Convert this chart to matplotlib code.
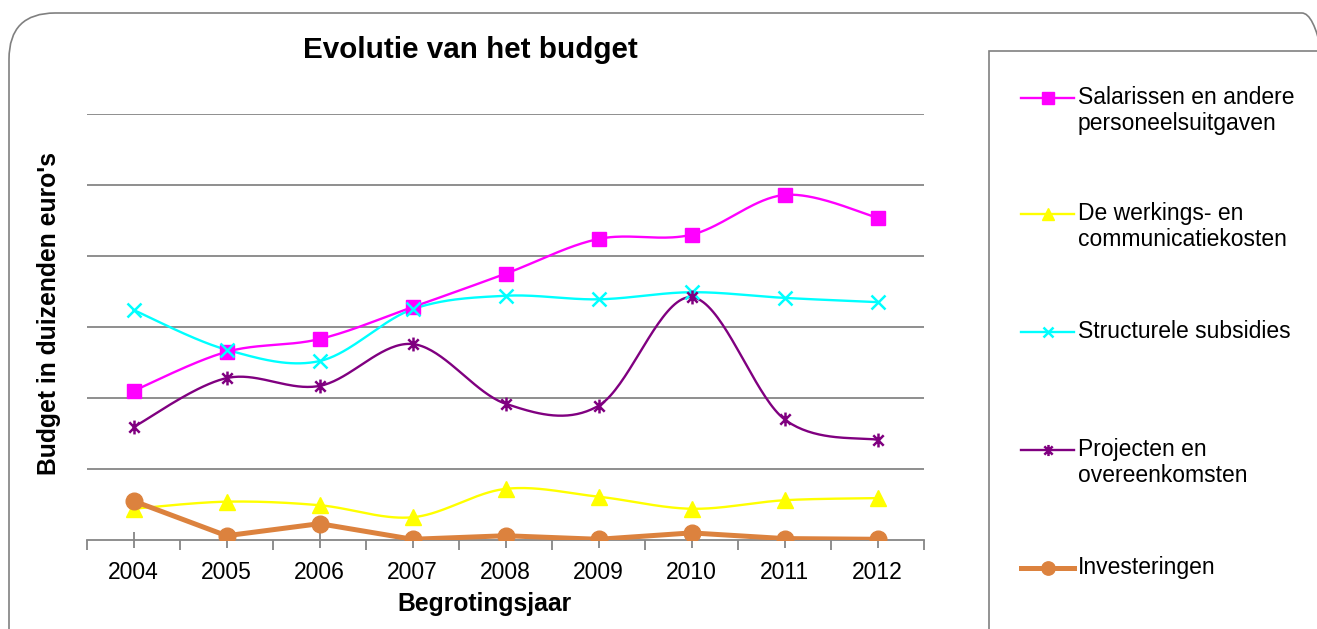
import numpy as np
import matplotlib
matplotlib.use("Agg")
import matplotlib.pyplot as plt
from matplotlib.lines import Line2D
from matplotlib.patches import FancyBboxPatch, Rectangle
from matplotlib.path import Path

plt.rcParams['font.family'] = ['Liberation Sans', 'DejaVu Sans']

years = ['2004', '2005', '2006', '2007', '2008', '2009', '2010', '2011', '2012']
salarissen = [2.10, 2.65, 2.83, 3.28, 3.75, 4.24, 4.30, 4.86, 4.54]
werking = [0.44, 0.54, 0.49, 0.32, 0.72, 0.61, 0.44, 0.56, 0.59]
structureel = [3.24, 2.68, 2.52, 3.25, 3.44, 3.39, 3.49, 3.41, 3.35]
projecten = [1.59, 2.28, 2.17, 2.76, 1.92, 1.89, 3.42, 1.70, 1.41]
investeringen = [0.55, 0.06, 0.23, 0.01, 0.06, 0.01, 0.10, 0.02, 0.01]

labels = ['Salarissen en andere\npersoneelsuitgaven',
          'De werkings- en\ncommunicatiekosten',
          'Structurele subsidies',
          'Projecten en\novereenkomsten',
          'Investeringen']

W, H = 1317, 629
fig = plt.figure(figsize=(W / 100, H / 100), dpi=100)

def fx(px):
    return px / W

def fy(py):
    return 1 - py / H

# outer rounded frame
frame = FancyBboxPatch((fx(9), fy(700)), fx(1348) - fx(9), fy(13) - fy(700),
                       boxstyle="round,pad=0,rounding_size=0.035",
                       transform=fig.transFigure, fill=False,
                       edgecolor='#808080', linewidth=1.2,
                       mutation_aspect=W / H)
fig.add_artist(frame)

ax = fig.add_axes([fx(87), fy(540), fx(924) - fx(87), fy(114) - fy(540)])
ax.set_facecolor('none')

def smooth(xs, ys, n=40):
    xs = np.asarray(xs, float)
    ys = np.asarray(ys, float)
    P = np.column_stack([xs, ys])
    Pe = np.vstack([P[0], P, P[-1]])
    out = []
    t = np.linspace(0, 1, n)
    for i in range(1, len(Pe) - 2):
        p0, p1, p2, p3 = Pe[i - 1], Pe[i], Pe[i + 1], Pe[i + 2]
        c1 = p1 + (p2 - p0) / 6
        c2 = p2 - (p3 - p1) / 6
        seg = ((1 - t) ** 3)[:, None] * p1 + (3 * (1 - t) ** 2 * t)[:, None] * c1 \
            + (3 * (1 - t) * t ** 2)[:, None] * c2 + (t ** 3)[:, None] * p2
        out.append(seg if i == 1 else seg[1:])
    s = np.vstack(out)
    return s[:, 0], s[:, 1]

star = Path([(0, -1), (0, 1), (-0.75, -0.75), (0.75, 0.75), (-0.75, 0.75), (0.75, -0.75)],
            [Path.MOVETO, Path.LINETO, Path.MOVETO, Path.LINETO, Path.MOVETO, Path.LINETO])

x = np.arange(len(years))

series = [
    (salarissen, '#FF00FF', 's', 10.5, 1.7, True, {}),
    (werking, '#FFFF00', '^', 11, 1.7, True, {}),
    (structureel, '#00FFFF', 'x', 9.5, 1.7, True, {'markeredgewidth': 1.8}),
    (projecten, '#800080', star, 10, 1.7, True, {'markeredgewidth': 1.8}),
    (investeringen, '#DC823E', 'o', 12, 3.6, False, {}),
]

for vals, col, mk, ms, lw, sm, extra in series:
    if sm:
        sx, sy = smooth(x, vals)
        ax.plot(sx, sy, color=col, linewidth=lw, zorder=3)
    else:
        ax.plot(x, vals, color=col, linewidth=lw, zorder=3, solid_joinstyle='round')
    ax.plot(x, vals, linestyle='none', marker=mk, markersize=ms, color=col,
            markeredgecolor=col, zorder=4, **extra)

ax.set_xlim(-0.5, len(years) - 0.5)
ax.set_ylim(0, 6)
ax.set_yticks(np.arange(1, 7))
ax.yaxis.grid(True, color='#868686', linewidth=1.3)
ax.set_axisbelow(True)
ax.tick_params(axis='y', left=False, labelleft=False)
ax.set_xticks(x)
ax.set_xticklabels(years, fontsize=16.5)
ax.set_xticks(np.arange(-0.5, len(years)), minor=True)
ax.tick_params(axis='x', which='major', direction='inout', length=12, width=1.3,
               color='#868686', pad=9)
ax.tick_params(axis='x', which='minor', direction='out', length=7, width=1.3,
               color='#868686')
for s in ['left', 'right', 'top']:
    ax.spines[s].set_visible(False)
ax.spines['bottom'].set_color('#868686')
ax.spines['bottom'].set_linewidth(1.3)

fig.text(fx(470), fy(50), 'Evolutie van het budget', fontsize=21.3, fontweight='bold',
         ha='center', va='center')
fig.text(fx(484), fy(604), 'Begrotingsjaar', fontsize=17.8, fontweight='bold',
         ha='center', va='center')
fig.text(fx(49), fy(313), "Budget in duizenden euro's", fontsize=17.8, fontweight='bold',
         ha='center', va='center', rotation=90)

# legend box
fig.add_artist(Rectangle((fx(989), fy(700)), fx(1400) - fx(989), fy(51) - fy(700),
                         transform=fig.transFigure, fill=False,
                         edgecolor='#808080', linewidth=1.2))
leg_y = [98, 214, 332, 450, 568]
for (vals, col, mk, ms, lw, sm, extra), lab, py in zip(series, labels, leg_y):
    fig.add_artist(Line2D([fx(1021), fx(1074)], [fy(py), fy(py)], color=col,
                          linewidth=lw, transform=fig.transFigure))
    fig.add_artist(Line2D([fx(1047.5)], [fy(py)], color=col, marker=mk,
                          markersize=ms * 0.8, markeredgecolor=col, linestyle='none',
                          transform=fig.transFigure, **extra))
    fig.text(fx(1078), fy(py - 12), lab, fontsize=16.5, ha='left', va='top',
             linespacing=1.15)

fig.savefig('out.png', dpi=100)
